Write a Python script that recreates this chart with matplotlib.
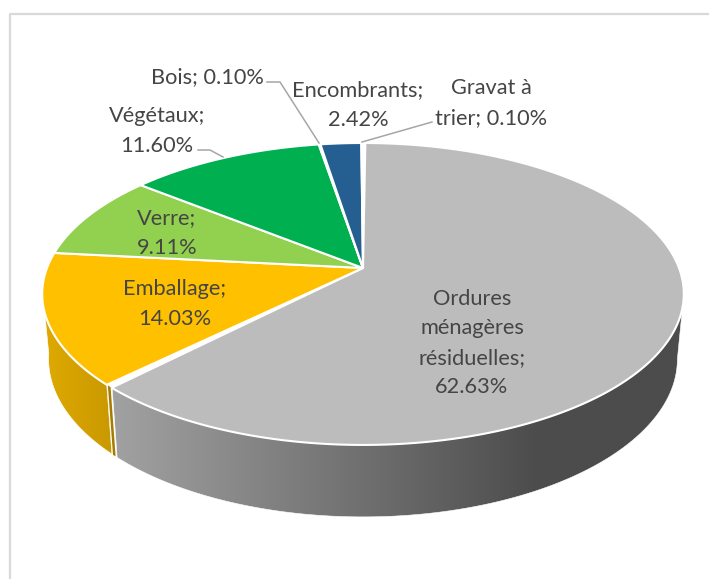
"""3D pie of household waste shares, drawn in pixel coordinates with a small perspective projection."""
import numpy as np
import matplotlib
matplotlib.use("Agg")
import matplotlib.pyplot as plt
from matplotlib.colors import LinearSegmentedColormap
from matplotlib.patches import Polygon

W, H = 709, 579

names = ["Ordures ménagères résiduelles", "Emballage", "Verre", "Végétaux",
         "Bois", "Encombrants", "Gravat à trier"]
values = [62.63, 14.03, 9.11, 11.60, 0.10, 2.42, 0.10]
top_colors = ["#bcbcbc", "#ffc000", "#92d050", "#00b050", "#ffffff", "#255e91", "#ffffff"]
label_texts = ["Ordures\nménagères\nrésiduelles;\n62.63%", "Emballage;\n14.03%", "Verre;\n9.11%",
               "Végétaux;\n11.60%", "Bois; 0.10%", "Encombrants;\n2.42%", "Gravat à\ntrier; 0.10%"]
label_pos = [(472, 343), (175, 304), (167, 233), (157, 131), (207, 77), (358, 105), (491, 103)]

# projection of the unit disk
CX, CY = 363, 268
RX, SY = 316, 146.5
K = 0.172
DEPTH = 64
SHRINK_X = 0.98
STRETCH_Y = 1.045
SEAM = 1.3          # ordures slice stops a bit short, shows the cut face
TOP_GAP = 0.5
WHITE_LW = 1.5
GREY = "#454545"
LEADER = "#a6a6a6"


def project(phi, bottom=False):
    """phi in degrees, clockwise from 12 o'clock."""
    a = np.radians(phi)
    x, v = np.sin(a), -np.cos(a)
    d = 1 - K * v
    sx, sy = RX * x / d, SY * v / d
    if bottom:
        return CX + SHRINK_X * sx, CY + DEPTH + STRETCH_Y * sy
    return CX + sx, CY + sy


def arc(a0, a1, bottom=False):
    phi = np.linspace(a0, a1, max(int(abs(a1 - a0) * 2), 2))
    return np.column_stack(project(phi, bottom))


def wall(a0, a1):
    return np.vstack([arc(a0, a1), arc(a1, a0, True)])


def gradient_wall(ax, a0, a1, stops, x0, x1):
    cmap = LinearSegmentedColormap.from_list("wall", stops)
    ramp = np.linspace(0, 1, 256).reshape(1, -1)
    im = ax.imshow(ramp, cmap=cmap, extent=(x0, x1, H, 0), aspect="auto", zorder=1,
                   interpolation="bilinear")
    poly = Polygon(wall(a0, a1), closed=True, fc="none", ec="none", transform=ax.transData)
    ax.add_patch(poly)
    im.set_clip_path(poly)
    ax.add_patch(Polygon(wall(a0, a1), closed=True, fc="none", ec="#ffffff", lw=0.4, zorder=1.5))


fig = plt.figure(figsize=(W / 100, H / 100), dpi=100)
ax = fig.add_axes([0, 0, 1, 1])

edges = np.concatenate([[0], np.cumsum(values)]) / sum(values) * 360

# side walls
gradient_wall(ax, 100, edges[1] - SEAM - 0.1,
              [(0, "#a2a2a2"), (0.74, "#4c4c4c"), (1, "#4c4c4c")], 110, 690)
gradient_wall(ax, edges[1], 262, ["#e0aa00", "#c99900"], 40, 112)
ax.add_patch(Polygon(wall(edges[1] - SEAM + 0.3, edges[1] - 0.3), closed=True,
                     fc="#a67c00", ec="none", zorder=1.6))

# top faces
for i, col in enumerate(top_colors):
    a0, a1 = edges[i], edges[i + 1]
    if i == 0:
        a0 += TOP_GAP
        a1 -= SEAM
    pts = np.vstack([[CX, CY], arc(a0, a1)])
    ax.add_patch(Polygon(pts, closed=True, fc=col, ec="#ffffff", lw=WHITE_LW, zorder=2,
                         joinstyle="miter"))

# leader lines
ax.plot([267, 280, 319], [82, 82, 143], color=LEADER, lw=1.1, zorder=3)
ax.plot([198, 210, 223], [150, 150, 157], color=LEADER, lw=1.1, zorder=3)
ax.plot([362, 432], [142, 122], color=LEADER, lw=1.1, zorder=3)

for txt, (x, y) in zip(label_texts, label_pos):
    ax.text(x, y, txt, ha="center", va="center", family="Lato", fontsize=15.7,
            color=GREY, linespacing=1.6 if "\n" in txt else 1.2, zorder=4)

# chart frame
ax.plot([9.5, 9.5, W], [H, 13.5, 13.5], color="#d9d9d9", lw=1.6, zorder=0)

ax.set_xlim(0, W)
ax.set_ylim(H, 0)
ax.axis("off")
fig.savefig("out.png", dpi=100, facecolor="white")
